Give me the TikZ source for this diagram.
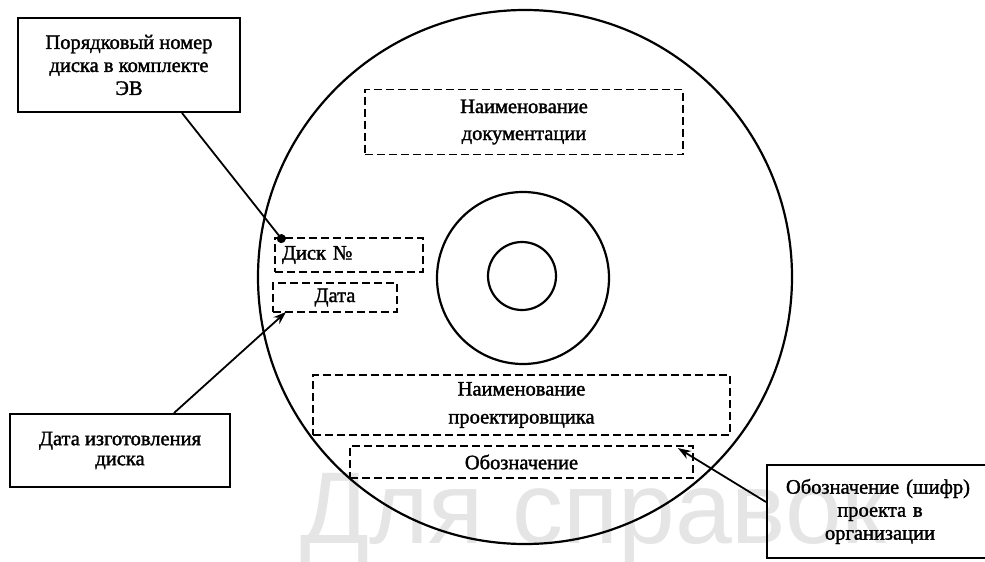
\documentclass[tikz,border=0pt]{standalone}
\usepackage{fontspec}
\setmainfont[FakeBold=1.6]{Liberation Serif}
\newfontfamily\wmfont{Liberation Sans}
\usetikzlibrary{arrows.meta}
\begin{document}
\begin{tikzpicture}[x=1pt,y=-1pt,
  txt/.style={font=\fontsize{20.5}{23}\bfseries\mdseries\selectfont, align=center},
  solidbox/.style={draw, line width=2pt, inner sep=0pt, txt},
  dashbox/.style={draw, line width=1.8pt, dash pattern=on 8pt off 4pt, inner sep=0pt, txt},
  ring/.style={draw, line width=2.2pt},
  conn/.style={line width=1.8pt},
  tip/.style={-{Stealth[length=13pt,width=9pt]}},
  dot/.style={-{Circle[length=9pt]}}]
\useasboundingbox (0,0) rectangle (985,562);
\fill[white] (0,0) rectangle (985,562);
% watermark
\node[anchor=base west, inner sep=0pt, text=black!10, font=\wmfont\fontsize{102}{102}\selectfont] (wm) at (300,543) {Для справок};
% disc
\draw[ring] (525,277) circle[radius=267];
\draw[ring] (523,278) circle[radius=86];
\draw[ring] (522,276) circle[radius=34];
% dashed fields
\node[dashbox, minimum width=318pt, minimum height=65pt] (doc) at (524,122) {Наименование\\[4pt]документации};
\node[dashbox, minimum width=148pt, minimum height=34pt, text width=134pt, align=left] (disk) at (349,255) {Диск №};
\node[dashbox, minimum width=124pt, minimum height=29pt] (date) at (335,297.5) {Дата};
\node[dashbox, minimum width=417pt, minimum height=60pt] (des) at (521.5,405) {Наименование\\[5pt]проектировщика};
\node[dashbox, minimum width=343pt, minimum height=32pt] (obo) at (521.5,462) {Обозначение};
% callout boxes
\node[solidbox, minimum width=222pt, minimum height=94pt] (tl) at (129,65) {Порядковый номер\\диска в комплекте\\ЭВ};
\node[solidbox, minimum width=220pt, minimum height=73pt, font=\fontsize{20.5}{20}\selectfont] (bl) at (120,450.5) {Дата изготовления\\диска};
\node[solidbox, minimum width=226pt, minimum height=93pt, text width=212pt] (br) at (880,511.5) {\hspace*{-4pt}Обозначение (шифр)\\проекта в\\организации};
% connectors
\coordinate (diskpt) at ([xshift=10pt,yshift=-5pt]disk.north west);
\coordinate (datept) at ([xshift=14pt,yshift=1pt]date.south west);
\coordinate (obopt) at ([xshift=-16pt,yshift=-3pt]obo.north east);
\draw[conn,dot] ([xshift=165pt]tl.south west) -- (diskpt);
\draw[conn,tip] ([xshift=165pt]bl.north west) -- (datept);
\draw[conn,tip] ([yshift=9.5pt]br.west) -- (obopt);
\end{tikzpicture}
\end{document}
